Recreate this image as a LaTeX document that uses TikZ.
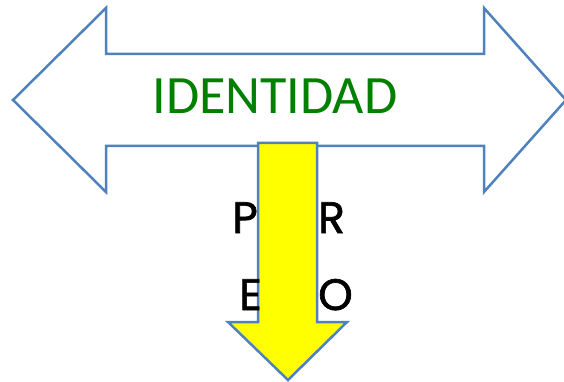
\documentclass[tikz,border=0pt]{standalone}
\usepackage{fontspec}
\setmainfont{Carlito}
\newfontfamily\letterfont{Poppins}[FakeBold=1.5]
\definecolor{arrowblue}{HTML}{4F81BD}
\definecolor{titlegreen}{HTML}{008000}
\definecolor{arrowyellow}{HTML}{FFFF00}
\tikzset{
  outline/.style={draw=arrowblue, line width=2.5pt, line join=miter},
  letter/.style={font=\letterfont\fontsize{44}{44}\selectfont, text=black, inner sep=0pt}
}
\begin{document}
\begin{tikzpicture}[x=1pt,y=-1pt]
  \useasboundingbox (0,0) rectangle (564,382);
  % double arrow
  \draw[outline, fill=white] (13,100) -- (106,8) -- (106,54) -- (484,54) -- (484,8)
    -- (566,100) -- (484,192) -- (484,146) -- (106,146) -- (106,192) -- cycle;
  \node[text=titlegreen, font=\fontsize{54}{54}\selectfont, inner sep=0pt] (title) at (275,96) {IDENTIDAD};
  % down arrow
  \draw[outline, fill=arrowyellow] (258,143) -- (317,143) -- (317,322) -- (347,322)
    -- (288,380) -- (228,322) -- (258,322) -- cycle;
  % letters
  \node[letter, anchor=base east] (p) at (258,233) {P};
  \node[letter, anchor=base west] (r) at (318,233) {R};
  \node[letter, anchor=base east] (e) at (262,310) {E};
  \node[letter, anchor=base west] (o) at (318,310) {O};
\end{tikzpicture}
\end{document}
